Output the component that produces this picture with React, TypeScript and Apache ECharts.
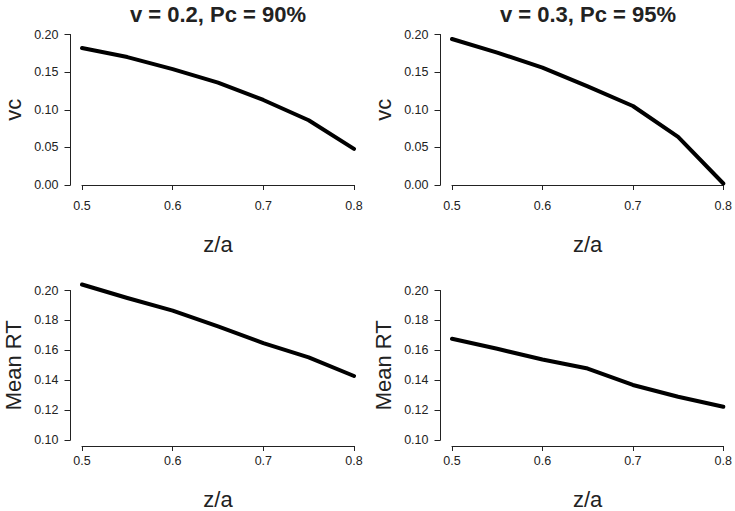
import React, { useEffect, useRef } from "react";
import * as echarts from "echarts";

const zOverA = [0.5, 0.55, 0.6, 0.65, 0.7, 0.75, 0.8];
const vcLeft = [0.182, 0.17, 0.154, 0.136, 0.113, 0.086, 0.048];
const vcRight = [0.194, 0.176, 0.156, 0.131, 0.105, 0.064, 0.002];
const rtLeft = [0.204, 0.195, 0.1865, 0.176, 0.1648, 0.1553, 0.1428];
const rtRight = [0.1677, 0.161, 0.1538, 0.1478, 0.1368, 0.1289, 0.1222];

const titles = ["v = 0.2, Pc = 90%", "v = 0.3, Pc = 95%"];
const xName = "z/a";
const yNames = ["vc", "Mean RT"];

const FONT = '"Liberation Sans", Arial, Helvetica, sans-serif';

export default function App() {
  const ref = useRef<HTMLDivElement>(null);
  useEffect(() => {
    if (!ref.current) return;
    const chart = echarts.init(ref.current, null, { renderer: "svg" });
    const cols = [82, 452];
    const rows = [34.5, 290.5];
    const panels = [
      { r: 0, c: 0, data: vcLeft, min: 0, max: 0.2, interval: 0.05, yName: yNames[0] },
      { r: 0, c: 1, data: vcRight, min: 0, max: 0.2, interval: 0.05, yName: yNames[0] },
      { r: 1, c: 0, data: rtLeft, min: 0.1, max: 0.2, interval: 0.02, yName: yNames[1] },
      { r: 1, c: 1, data: rtRight, min: 0.1, max: 0.2, interval: 0.02, yName: yNames[1] },
    ];
    const axisLine = { show: true, lineStyle: { color: "#222", width: 1 } };
    const axisLabelBase = { color: "#222", fontSize: 12.5, fontFamily: FONT };
    const nameStyle = { color: "#222", fontSize: 22, fontFamily: FONT };
    const option: any = {
      animation: false,
      backgroundColor: "#fff",
      grid: panels.map((p) => ({
        left: cols[p.c],
        top: rows[p.r],
        width: 272,
        height: 150.5,
      })),
      xAxis: panels.map((p, i) => ({
        type: "value",
        gridIndex: i,
        min: 0.5,
        max: 0.8,
        interval: 0.1,
        offset: 6,
        axisLine,
        axisTick: { show: true, length: 5, lineStyle: { color: "#222" } },
        splitLine: { show: false },
        axisLabel: { ...axisLabelBase, margin: 8, formatter: (v: number) => v.toFixed(1) },
        name: xName,
        nameLocation: "middle",
        nameGap: 42,
        nameTextStyle: nameStyle,
      })),
      yAxis: panels.map((p, i) => ({
        type: "value",
        gridIndex: i,
        min: p.min,
        max: p.max,
        interval: p.interval,
        offset: 11.5,
        axisLine,
        axisTick: { show: true, length: 6, lineStyle: { color: "#222" } },
        splitLine: { show: false },
        axisLabel: { ...axisLabelBase, margin: 12, formatter: (v: number) => v.toFixed(2) },
        name: p.yName,
        nameLocation: "middle",
        nameGap: 46,
        nameTextStyle: nameStyle,
      })),
      series: panels.map((p, i) => ({
        type: "line",
        xAxisIndex: i,
        yAxisIndex: i,
        data: zOverA.map((x, k) => [x, p.data[k]]),
        showSymbol: false,
        symbol: "none",
        clip: false,
        lineStyle: { color: "#000", width: 4, cap: "round", join: "round" },
      })),
      graphic: titles.map((t, i) => ({
        type: "text",
        x: cols[i] + 136,
        y: 14,
        style: {
          text: t,
          align: "center",
          verticalAlign: "middle",
          fill: "#222",
          font: `bold 22px ${FONT}`,
        },
      })),
    };
    chart.setOption(option);
    return () => chart.dispose();
  }, []);
  return (
    <div
      ref={ref}
      style={{ position: "absolute", left: 0, top: 0, width: 735, height: 511 }}
    />
  );
}
